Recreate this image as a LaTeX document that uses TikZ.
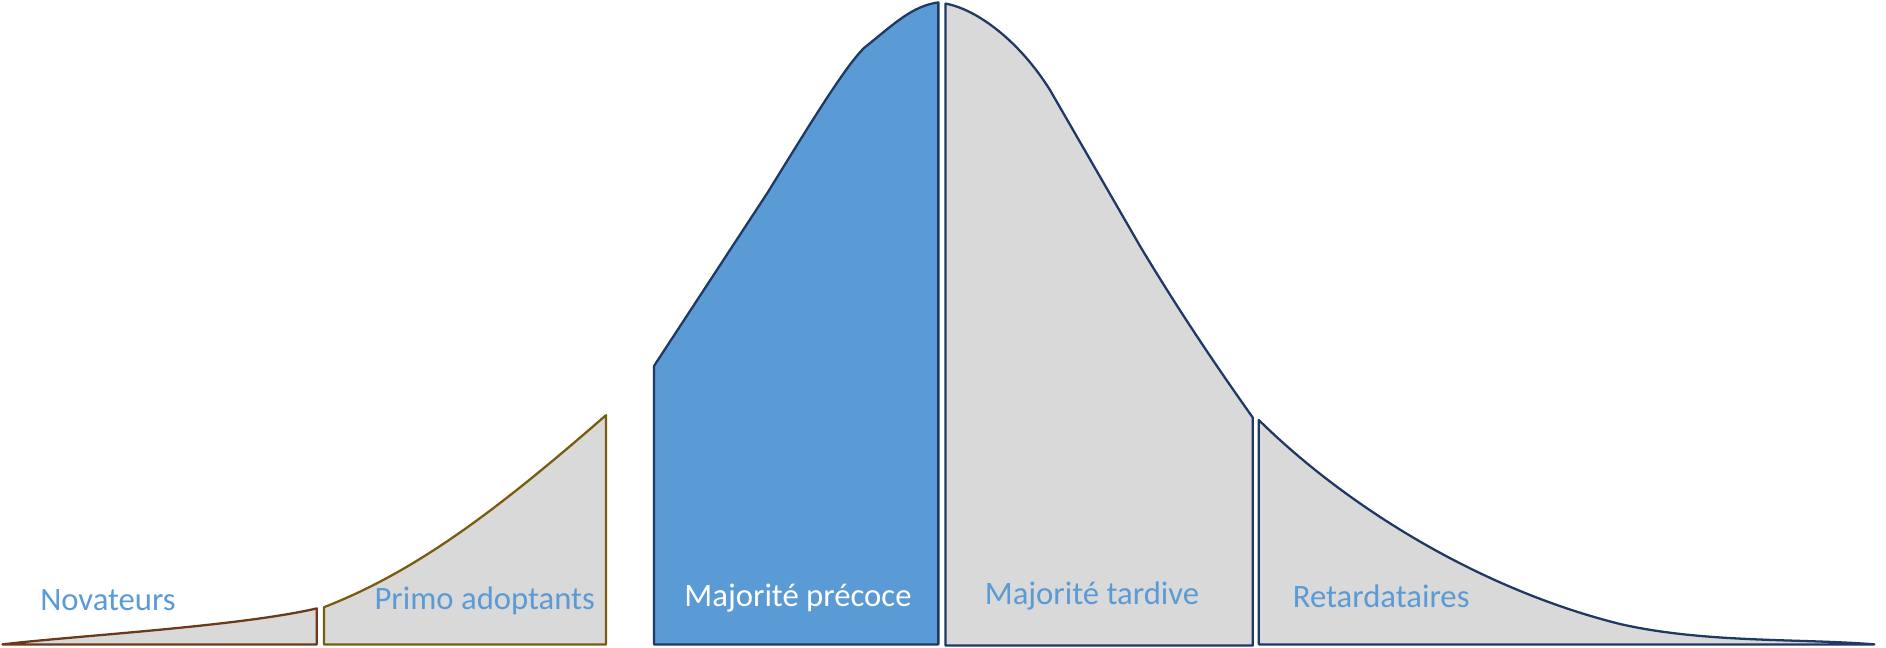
\documentclass[tikz,border=0pt]{standalone}
\usepackage{fontspec}
\setmainfont{Carlito}
\definecolor{bleu}{HTML}{5B9BD5}
\definecolor{marine}{HTML}{1F3864}
\definecolor{gris}{HTML}{D9D9D9}
\definecolor{brun}{HTML}{6B3A1A}
\definecolor{olive}{HTML}{7A5C10}
\begin{document}
\begin{tikzpicture}[x=0.024cm,y=-0.024cm,
    part/.style={fill=gris,line width=1.3pt,line join=round},
    lab/.style={font=\fontsize{18.6}{22}\selectfont,text=bleu}]
		\useasboundingbox (0,0) rectangle (1571.7,540);
		% Novateurs
		\draw[part,draw=brun](2,537)..controls(60,530)and(200,522)..(264,507)--(264,537)--cycle;
		% Primo adoptants
		\draw[part,draw=olive](270,537)--(270,506)..controls(350,475)and(420,420)..(505,346)--(505,537)--cycle;
		% Majorite precoce
		\draw[part,fill=bleu,draw=marine](545,537)--(545,305)--(640,160)..controls(680,95)and(705,55)..(720,40)..controls(745,20)and(760,5)..(782,2)--(782,537)--cycle;
		% Majorite tardive
		\draw[part,draw=marine](788,538)--(788,3)..controls(815,8)and(850,35)..(875,75)--(950,205)..controls(980,255)and(1010,300)..(1044,348)--(1044,538)--cycle;
		% Retardataires
		\draw[part,draw=marine](1049,537)--(1049,350)..controls(1120,420)and(1230,490)..(1350,520)..controls(1420,536)and(1500,532)..(1562,537)--cycle;
		\node[lab] (nov) at (90,500) {Novateurs};
		\node[lab] (pri) at (404,501) {Primo adoptants};
		\node[lab,text=white] (pre) at (665,498) {Majorité précoce};
		\node[lab] (tar) at (910,497) {Majorité tardive};
		\node[lab] (ret) at (1151,497) {Retardataires};
	    \end{tikzpicture}
\end{document}
